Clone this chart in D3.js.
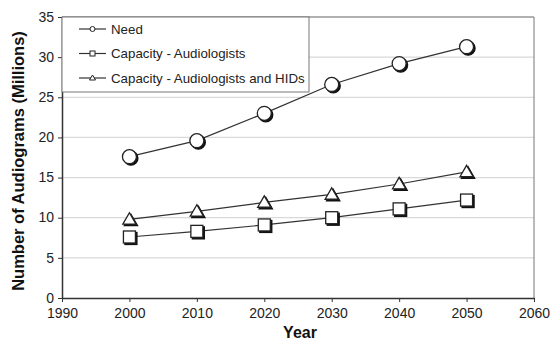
<!DOCTYPE html>
<html><head><meta charset="utf-8">
<script src="https://cdn.jsdelivr.net/npm/d3@7"></script>
<style>body{margin:0;background:#fff;} svg{display:block;font-family:Arial,"Liberation Sans",sans-serif;}</style>
</head><body>
<svg id="c" width="550" height="341"></svg>
<script>
const years = [2000, 2010, 2020, 2030, 2040, 2050];
const need = [17.6, 19.6, 23.0, 26.6, 29.2, 31.3];
const capAud = [7.6, 8.3, 9.1, 10.0, 11.1, 12.2];
const capAudHID = [9.8, 10.8, 11.9, 12.9, 14.2, 15.7];
const xTicks = [1990, 2000, 2010, 2020, 2030, 2040, 2050, 2060];
const yTicks = [0, 5, 10, 15, 20, 25, 30, 35];
const seriesNames = ["Need", "Capacity - Audiologists", "Capacity - Audiologists and HIDs"];
const seriesShapes = ["circle", "square", "triangle"];

const svg = d3.select("#c");
const L = 62, R = 534, T = 17, B = 298;
const x = d3.scaleLinear().domain([1990, 2060]).range([L, R]);
const y = d3.scaleLinear().domain([0, 35]).range([B, T]);

// gridlines
svg.append("g").selectAll("line").data(yTicks.filter(d => d > 0))
  .join("line").attr("x1", L).attr("x2", R)
  .attr("y1", d => y(d)).attr("y2", d => y(d))
  .attr("stroke", "#d9d9d9").attr("stroke-width", 1.2);
// top/right border
svg.append("path").attr("d", `M${L},${T}H${R}V${B}`).attr("fill", "none").attr("stroke", "#777").attr("stroke-width", 1);

// axes
const xa = svg.append("g").attr("transform", `translate(0,${B})`)
  .call(d3.axisBottom(x).tickValues(xTicks).tickFormat(d3.format("d")).tickSize(4).tickSizeOuter(0));
const ya = svg.append("g").attr("transform", `translate(${L},0)`)
  .call(d3.axisLeft(y).tickValues(yTicks).tickSize(4).tickSizeOuter(0));
[xa, ya].forEach(a => {
  a.select(".domain").attr("stroke", "#333").attr("stroke-width", 1.5);
  a.selectAll(".tick line").attr("stroke", "#333");
  a.selectAll("text").attr("font-size", 14).attr("fill", "#222").attr("font-family", "Arial, 'Liberation Sans', sans-serif");
});
xa.selectAll("text").attr("dy", "0.9em");
ya.selectAll("text").attr("dx", "-1px").attr("dy", "0.3em");

// axis titles
svg.append("text").attr("x", 300).attr("y", 338).attr("text-anchor", "middle")
  .attr("font-size", 16).attr("font-weight", "bold").attr("fill", "#111").text("Year");
svg.append("text").attr("transform", `translate(24,${161}) rotate(-90)`).attr("text-anchor", "middle")
  .attr("font-size", 16.5).attr("font-weight", "bold").attr("fill", "#111").text("Number of Audiograms (Millions)");

function marker(g, shape, cx, cy, s) {
  const draw = (dx, dy, fill, stroke) => {
    if (shape === "circle") g.append("circle").attr("cx", cx + dx).attr("cy", cy + dy).attr("r", s).attr("fill", fill).attr("stroke", stroke).attr("stroke-width", 1.3);
    else if (shape === "square") g.append("rect").attr("x", cx - s + dx).attr("y", cy - s + dy).attr("width", 2 * s).attr("height", 2 * s).attr("fill", fill).attr("stroke", stroke).attr("stroke-width", 1.3);
    else g.append("path").attr("d", `M${cx + dx},${cy - s * 1.1 + dy}L${cx + s * 1.1 + dx},${cy + s * 0.8 + dy}L${cx - s * 1.1 + dx},${cy + s * 0.8 + dy}Z`).attr("fill", fill).attr("stroke", stroke).attr("stroke-width", 1.3);
  };
  draw(1.5, 1.5, "#111", "#111");
  draw(0, 0, "#fff", "#222");
}

const allSeries = [need, capAud, capAudHID];
const line = d3.line().x((d, i) => x(years[i])).y(d => y(d));
allSeries.forEach((vals, si) => {
  const g = svg.append("g");
  g.append("path").datum(vals).attr("d", line).attr("fill", "none").attr("stroke", "#333").attr("stroke-width", 1.2);
  vals.forEach((v, i) => marker(g, seriesShapes[si], x(years[i]), y(v), si === 0 ? 7 : 6));
});

// legend
const lg = svg.append("g");
lg.append("rect").attr("x", L).attr("y", T).attr("width", 247).attr("height", 75).attr("fill", "#fff").attr("stroke", "#777");
seriesNames.forEach((n, i) => {
  const ly = 29 + i * 24.5;
  lg.append("line").attr("x1", 79).attr("x2", 106).attr("y1", ly).attr("y2", ly).attr("stroke", "#333").attr("stroke-width", 1.2);
  const sh = seriesShapes[i];
  if (sh === "circle") lg.append("circle").attr("cx", 92.5).attr("cy", ly).attr("r", 2.5).attr("fill", "#fff").attr("stroke", "#222");
  else if (sh === "square") lg.append("rect").attr("x", 90).attr("y", ly - 2.5).attr("width", 5).attr("height", 5).attr("fill", "#fff").attr("stroke", "#222");
  else lg.append("path").attr("d", `M92.5,${ly - 3}L95.5,${ly + 2}L89.5,${ly + 2}Z`).attr("fill", "#fff").attr("stroke", "#222");
  lg.append("text").attr("x", 111).attr("y", ly + 4.5).attr("font-size", 13.3).attr("fill", "#222").text(n);
});
</script>
</body></html>
